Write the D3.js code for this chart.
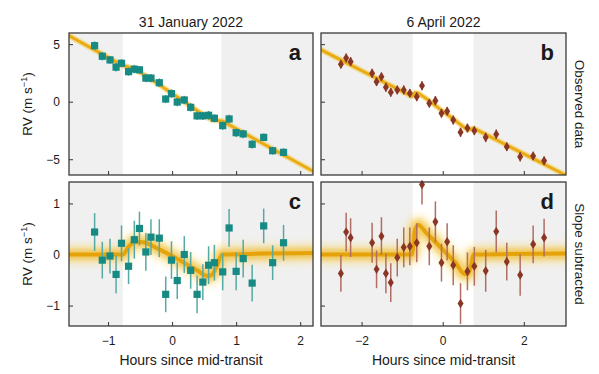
<!DOCTYPE html>
<html>
<head>
<meta charset="utf-8">
<script src="https://d3js.org/d3.v7.min.js"></script>
<style>
body {margin: 0; background: #fff;}
text {font-family: "Liberation Sans", Arial, sans-serif; fill: #1a1a1a;}
</style>
</head>
<body>
<svg id="chart" width="599" height="374"></svg>
<script>
// ---- 31 January 2022 (squares) ----
const janHours = [-1.21,-1.09,-0.97,-0.875,-0.79,-0.68,-0.59,-0.51,-0.41,-0.33,-0.20,-0.10,-0.01,0.08,0.19,0.29,0.39,0.48,0.57,0.66,0.79,0.89,1.00,1.11,1.25,1.43,1.57,1.74];
const janObserved = [4.87,3.95,3.63,3.00,3.34,2.61,2.83,2.77,2.05,2.05,1.65,0.23,0.70,-0.03,0.15,-0.49,-1.23,-1.23,-1.18,-1.44,-2.08,-1.50,-2.69,-2.80,-3.70,-3.10,-4.26,-4.40];
const janSubtracted = [0.44,-0.11,-0.03,-0.39,0.22,-0.23,0.29,0.51,0.05,0.34,0.32,-0.78,-0.11,-0.51,0.00,-0.31,-0.78,-0.54,-0.21,-0.16,-0.34,0.52,-0.33,-0.08,-0.56,0.56,-0.16,0.23];
const janErr = [0.37,0.36,0.34,0.37,0.35,0.35,0.37,0.33,0.37,0.35,0.37,0.35,0.37,0.36,0.36,0.36,0.37,0.35,0.37,0.35,0.36,0.37,0.37,0.37,0.36,0.34,0.34,0.35];
const janModelHours = [-1.7,-0.77,-0.68,-0.58,-0.45,-0.2,0,0.2,0.4,0.55,0.62,0.70,0.78,2.3];
const janModelObserved = [6.02,3.14,3.01,2.80,2.38,1.47,0.72,-0.04,-0.81,-1.38,-1.57,-1.64,-1.67,-6.35];
const janModelSubtracted = [0,0,0.15,0.25,0.24,0.1,-0.03,-0.17,-0.32,-0.42,-0.40,-0.22,0,0.03];
const janTransit = [-0.77, 0.77];

// ---- 6 April 2022 (diamonds) ----
const aprHours = [-2.51,-2.38,-2.27,-1.74,-1.63,-1.51,-1.40,-1.28,-1.12,-0.96,-0.81,-0.64,-0.51,-0.33,-0.18,-0.03,0.11,0.26,0.44,0.61,0.78,1.06,1.32,1.58,1.91,2.23,2.50];
const aprObserved = [3.25,3.80,3.48,2.47,1.74,2.17,1.25,0.82,1.02,1.02,0.73,0.43,1.39,-0.14,0.09,-1.01,-0.83,-1.59,-2.66,-2.29,-2.52,-3.10,-2.83,-3.91,-4.78,-4.72,-5.13];
const aprSubtracted = [-0.37,0.44,0.33,0.23,-0.29,0.36,-0.37,-0.55,-0.06,0.14,0.16,0.23,1.37,0.16,0.64,-0.16,0.25,-0.21,-0.96,-0.33,-0.23,-0.32,0.45,-0.14,-0.40,0.20,0.33];
const aprErr = [0.36,0.38,0.38,0.39,0.37,0.37,0.39,0.38,0.37,0.39,0.37,0.38,0.39,0.37,0.40,0.37,0.36,0.39,0.40,0.37,0.38,0.41,0.41,0.37,0.41,0.37,0.37];
const aprModelHours = [-3.1,-0.76,-0.68,-0.6,-0.4,0,0.3,0.55,0.63,0.7,0.76,3.2];
const aprModelObserved = [4.69,0.46,0.79,0.74,0.26,-0.82,-1.61,-2.30,-2.44,-2.39,-2.30,-6.69];
const aprModelSubtracted = [0,0,0.49,0.58,0.42,0.1,-0.15,-0.38,-0.38,-0.2,0,0.02];
const aprTransit = [-0.74, 0.76];

// ticks
const janXTicks = [-1, 0, 1, 2];
const aprXTicks = [-2, 0, 2];
const obsYTicks = [-5, 0, 5];
const subYTicks = [-1, 0, 1];

const svg = d3.select("#chart");
const defs = svg.append("defs");
[["blur1", 0.7], ["blur2", 2], ["blur3", 3.5]].forEach(function(b) {
  defs.append("filter").attr("id", b[0]).attr("x", "-10%").attr("y", "-50%").attr("width", "120%").attr("height", "200%")
    .append("feGaussianBlur").attr("stdDeviation", b[1]);
});

const cols = [{x0: 69, x1: 313}, {x0: 321, x1: 566}];
const rows = [{y0: 33, y1: 175}, {y0: 182, y1: 326}];

const xJan = d3.scaleLinear().domain([-1.61, 2.2]).range([cols[0].x0, cols[0].x1]);
const xApr = d3.scaleLinear().domain([-3.0, 3.04]).range([cols[1].x0, cols[1].x1]);
const yObs = d3.scaleLinear().domain([-6.37, 5.97]).range([rows[0].y1, rows[0].y0]);
const ySub = d3.scaleLinear().domain([-1.40, 1.42]).range([rows[1].y1, rows[1].y0]);

function panel(opt) {
  const c = cols[opt.col], r = rows[opt.row];
  const id = "clip" + opt.letter;
  defs.append("clipPath").attr("id", id)
    .append("rect").attr("x", c.x0).attr("y", r.y0).attr("width", c.x1 - c.x0).attr("height", r.y1 - r.y0);
  const g = svg.append("g");

  // shading outside transit
  g.append("rect").attr("x", c.x0).attr("y", r.y0).attr("width", opt.x(opt.transit[0]) - c.x0).attr("height", r.y1 - r.y0).attr("fill", "#f0f0f0");
  g.append("rect").attr("x", opt.x(opt.transit[1])).attr("y", r.y0).attr("width", c.x1 - opt.x(opt.transit[1])).attr("height", r.y1 - r.y0).attr("fill", "#f0f0f0");

  // axes with inward ticks
  const xa = g.append("g").attr("transform", "translate(0," + r.y1 + ")")
    .call(d3.axisBottom(opt.x).tickValues(opt.xTicks).tickSize(-4).tickPadding(10)
      .tickFormat(opt.row === 1 ? d3.format("") : ""));
  const ya = g.append("g").attr("transform", "translate(" + c.x0 + ",0)")
    .call(d3.axisLeft(opt.y).tickValues(opt.yTicks).tickSize(-4).tickPadding(9)
      .tickFormat(opt.col === 0 ? d3.format("") : ""));
  [xa, ya].forEach(function(a) {
    a.select(".domain").remove();
    a.selectAll("line").attr("stroke", "#333");
    a.selectAll("text").style("font-size", "12px").attr("fill", "#1a1a1a");
  });

  const inner = g.append("g").attr("clip-path", "url(#" + id + ")");
  const pts = opt.mx.map(function(h, i) { return [opt.x(h), opt.y(opt.my[i])]; });
  const line = d3.line().curve(opt.row === 0 ? d3.curveLinear : d3.curveMonotoneX);
  const layers = opt.row === 0
    ? [{w: 6, c: "#f6cd55", o: 0.5, f: "blur1"}, {w: 3, c: "#e8a90c", o: 0.95, f: "blur1"}]
    : [{w: 20, c: "#f8d260", o: 0.4, f: "blur3"}, {w: 11, c: "#f0b828", o: 0.6, f: "blur2"}, {w: 4, c: "#e3a000", o: 0.9, f: "blur1"}];
  layers.forEach(function(l) {
    inner.append("path").attr("d", line(pts)).attr("fill", "none")
      .attr("stroke", l.c).attr("stroke-width", l.w).attr("stroke-opacity", l.o)
      .attr("stroke-linejoin", "round").attr("filter", "url(#" + l.f + ")");
  });

  // error bars
  inner.selectAll(".eb").data(opt.hx).enter().append("line")
    .attr("x1", function(d) { return opt.x(d); }).attr("x2", function(d) { return opt.x(d); })
    .attr("y1", function(d, i) { return opt.y(opt.vy[i] - opt.err[i]); })
    .attr("y2", function(d, i) { return opt.y(opt.vy[i] + opt.err[i]); })
    .attr("stroke", opt.barColor).attr("stroke-width", 1.5);

  // markers
  const sym = opt.col === 0 ? "M-3.6,-3.6H3.6V3.6H-3.6Z" : "M0,-4.8L3,0L0,4.8L-3,0Z";
  g.selectAll(".pt").data(opt.hx).enter().append("path")
    .attr("d", sym)
    .attr("transform", function(d, i) { return "translate(" + opt.x(d) + "," + opt.y(opt.vy[i]) + ")"; })
    .attr("fill", opt.color);

  g.append("rect").attr("x", c.x0).attr("y", r.y0).attr("width", c.x1 - c.x0).attr("height", r.y1 - r.y0)
    .attr("fill", "none").attr("stroke", "#3a3a3a").attr("stroke-width", 1.3);

  g.append("text").attr("x", c.x1 - 12).attr("y", r.y0 + 27).attr("text-anchor", "end")
    .style("font-size", "22px").style("font-weight", "bold").attr("fill", "#000").text(opt.letter);
}

const teal = "#178a84", brown = "#8a3626";
panel({col: 0, row: 0, letter: "a", x: xJan, y: yObs, xTicks: janXTicks, yTicks: obsYTicks, transit: janTransit,
  hx: janHours, vy: janObserved, err: janErr, mx: janModelHours, my: janModelObserved, color: teal, barColor: "#3f9e98"});
panel({col: 1, row: 0, letter: "b", x: xApr, y: yObs, xTicks: aprXTicks, yTicks: obsYTicks, transit: aprTransit,
  hx: aprHours, vy: aprObserved, err: aprErr, mx: aprModelHours, my: aprModelObserved, color: brown, barColor: "#a35a4f"});
panel({col: 0, row: 1, letter: "c", x: xJan, y: ySub, xTicks: janXTicks, yTicks: subYTicks, transit: janTransit,
  hx: janHours, vy: janSubtracted, err: janErr, mx: janModelHours, my: janModelSubtracted, color: teal, barColor: "#56aaa4"});
panel({col: 1, row: 1, letter: "d", x: xApr, y: ySub, xTicks: aprXTicks, yTicks: subYTicks, transit: aprTransit,
  hx: aprHours, vy: aprSubtracted, err: aprErr, mx: aprModelHours, my: aprModelSubtracted, color: brown, barColor: "#b06e64"});

// titles
const titles = ["31 January 2022", "6 April 2022"];
titles.forEach(function(t, i) {
  svg.append("text").attr("x", (cols[i].x0 + cols[i].x1) / 2).attr("y", 27)
    .attr("text-anchor", "middle").style("font-size", "14px").text(t);
  svg.append("text").attr("x", (cols[i].x0 + cols[i].x1) / 2).attr("y", 365)
    .attr("text-anchor", "middle").style("font-size", "14px").text("Hours since mid-transit");
});

// y labels
rows.forEach(function(r) {
  const t = svg.append("text").attr("transform", "translate(32," + ((r.y0 + r.y1) / 2) + ") rotate(-90)")
    .attr("text-anchor", "middle").style("font-size", "13.5px");
  t.append("tspan").text("RV (m s");
  t.append("tspan").attr("dy", -5).style("font-size", "9px").text("−1");
  t.append("tspan").attr("dy", 5).text(")");
});
const sideLabels = ["Observed data", "Slope subtracted"];
sideLabels.forEach(function(s, i) {
  svg.append("text").attr("transform", "translate(575," + ((rows[i].y0 + rows[i].y1) / 2) + ") rotate(90)")
    .attr("text-anchor", "middle").style("font-size", "13.5px").text(s);
});
</script>
</body>
</html>
